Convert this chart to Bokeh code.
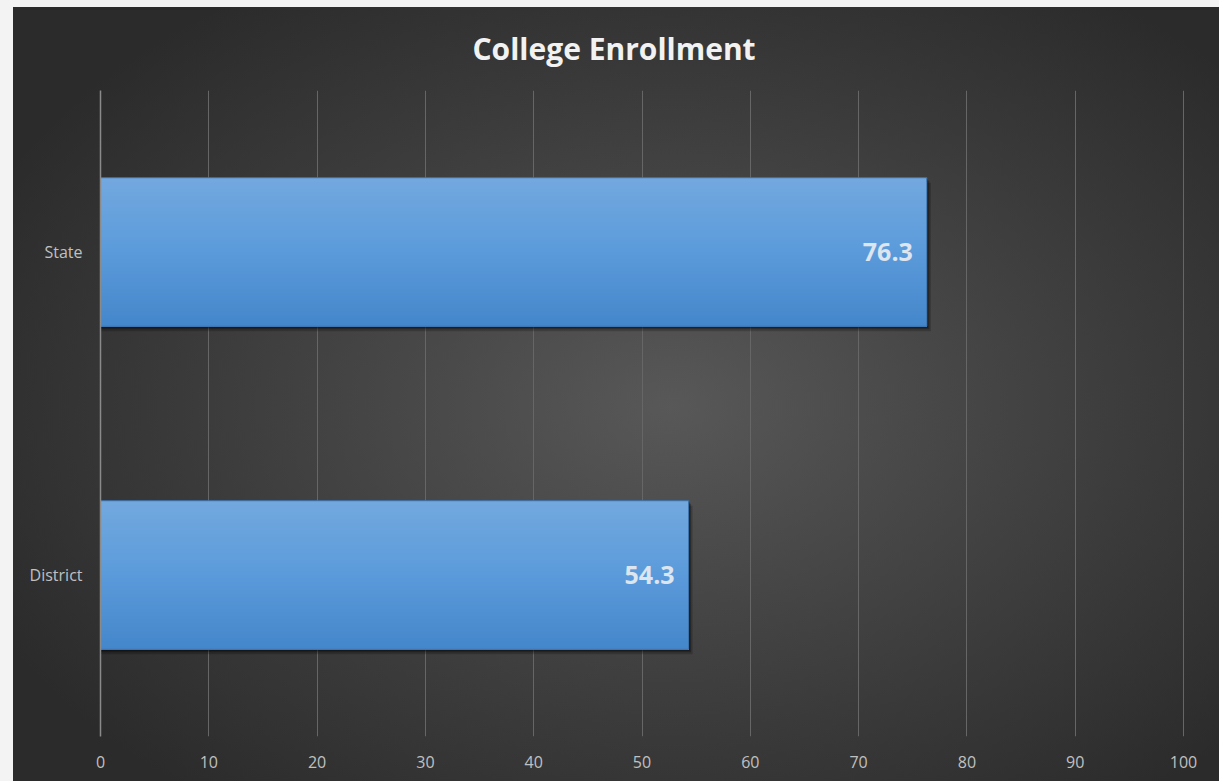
from bokeh.plotting import figure
from bokeh.models import FactorRange, Range1d, FixedTicker, ColumnDataSource, LabelSet
from bokeh.transform import dodge
from bokeh.core.properties import value
from bokeh.embed import file_html
from bokeh.resources import INLINE

# ---- data ----
categories = ["District", "State"]
values = [54.3, 76.3]
value_labels = ["54.3", "76.3"]
x_ticks = [0, 10, 20, 30, 40, 50, 60, 70, 80, 90, 100]
title_text = "College Enrollment"

# ---- styling ----
FONT = "Open Sans"
BAR_H = 0.46
PX_Y = 323.0      # pixels per category unit
PX_X = 10.83      # pixels per x unit

src = ColumnDataSource(dict(cat=categories, val=values, lbl=value_labels))

p = figure(
    width=1219, height=781,
    y_range=FactorRange(factors=categories),
    x_range=Range1d(0, (1219 - 100) / PX_X),
    output_backend="svg", toolbar_location=None,
    min_border_left=100, min_border_right=0,
    min_border_top=90, min_border_bottom=45,
)
p.border_fill_color = None
p.background_fill_color = None
p.outline_line_color = None
p.styles = {
    "background": (
        "linear-gradient(to right, #f3f3f3 0px, #f3f3f3 13px, rgba(0,0,0,0) 13px), "
        "linear-gradient(to bottom, #f3f3f3 0px, #f3f3f3 7px, rgba(0,0,0,0) 7px), "
        "radial-gradient(ellipse 62% 64% at 55% 52%, #585858 0%, #4a4a4a 30%, #3a3a3a 65%, #2b2b2b 100%)"
    )
}

# title
p.title.text = title_text
p.title.align = "left"
p.title.offset = 372
p.title.text_color = "#f2f2f2"
p.title.text_font = FONT
p.title.text_font_style = "bold"
p.title.text_font_size = "30px"
p.title.standoff = 44

# grid / axes
p.xaxis.ticker = FixedTicker(ticks=x_ticks)
p.xgrid.ticker = FixedTicker(ticks=x_ticks)
p.xgrid.grid_line_color = "#666666"
p.xgrid.grid_line_width = 1
p.ygrid.grid_line_color = None

p.xaxis.axis_line_color = None
p.xaxis.major_tick_line_color = None
p.xaxis.minor_tick_line_color = None
p.xaxis.major_label_text_color = "#c0c0c0"
p.xaxis.major_label_text_font = FONT
p.xaxis.major_label_text_font_size = "16px"
p.xaxis.major_label_standoff = 13

p.yaxis.axis_line_color = "#8a8a8a"
p.yaxis.axis_line_width = 1.5
p.yaxis.major_tick_line_color = None
p.yaxis.minor_tick_line_color = None
p.yaxis.major_label_text_color = "#c0c0c0"
p.yaxis.major_label_text_font = FONT
p.yaxis.major_label_text_font_size = "16px"
p.yaxis.major_label_standoff = 12

# drop shadows
for dx, dy, a in [(4, 5, 0.2), (2.5, 3, 0.28), (1.2, 1.5, 0.35)]:
    p.hbar(y=dodge("cat", -dy / PX_Y, range=p.y_range), left=0,
           right=dodge("val", dx / PX_X), height=BAR_H, source=src,
           fill_color="black", fill_alpha=a, line_color=None)

# bar vertical gradient: cumulative bands from top down
def hex2rgb(h):
    h = h.lstrip("#")
    return tuple(int(h[i:i + 2], 16) for i in (0, 2, 4))

def rgb2hex(c):
    return "#%02x%02x%02x" % tuple(int(round(v)) for v in c)

stops = [(0.0, "#72a8de"), (0.5, "#5b9bdb"), (1.0, "#4587cb")]

def color_at(t):
    for (t0, c0), (t1, c1) in zip(stops[:-1], stops[1:]):
        if t0 <= t <= t1:
            f = (t - t0) / (t1 - t0)
            a, b = hex2rgb(c0), hex2rgb(c1)
            return rgb2hex([a[i] + (b[i] - a[i]) * f for i in range(3)])
    return stops[-1][1]

N = 40
for i in range(N):
    t = i / (N - 1)
    top = BAR_H / 2 - i * BAR_H / N
    bottom = -BAR_H / 2
    p.hbar(y=dodge("cat", (top + bottom) / 2, range=p.y_range), left=0, right="val",
           height=top - bottom, source=src,
           fill_color=color_at(t), line_color=None)

p.hbar(y="cat", left=0, right="val", height=BAR_H, source=src,
       fill_color=None, line_color="#3d72aa", line_width=1)

# value labels
p.add_layout(LabelSet(x="val", y="cat", text="lbl", source=src,
                      x_offset=-14, text_align="right", text_baseline="middle",
                      text_color="#dde5ee", text_font=value(FONT),
                      text_font_style="bold", text_font_size="25px"))

open("out.html", "w").write(file_html(p, INLINE))
